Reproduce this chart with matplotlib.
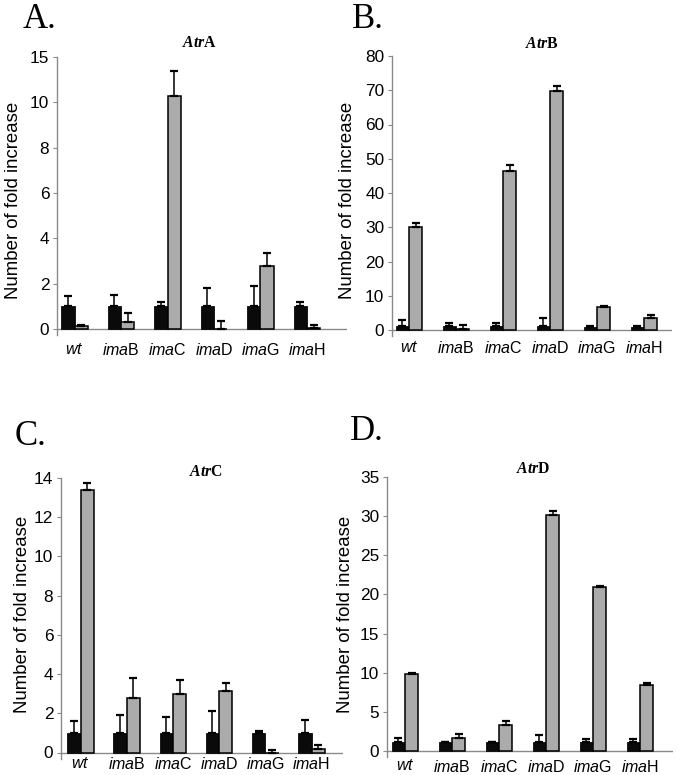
import matplotlib
matplotlib.use("Agg")
import matplotlib.pyplot as plt
import numpy as np

plt.rcParams['font.family'] = ['Liberation Sans', 'DejaVu Sans']
plt.rcParams['mathtext.fontset'] = 'custom'
plt.rcParams['mathtext.rm'] = 'Liberation Sans'
plt.rcParams['mathtext.it'] = 'Liberation Sans:italic'
plt.rcParams['mathtext.bf'] = 'Liberation Serif:bold'
plt.rcParams['mathtext.bfit'] = 'Liberation Serif:bold:italic'

# ---------------- data ----------------
strains = ["wt", "imaB", "imaC", "imaD", "imaG", "imaH"]
xtick_labels = [r"$\mathit{wt}$", r"$\mathit{ima}\mathrm{B}$", r"$\mathit{ima}\mathrm{C}$",
                r"$\mathit{ima}\mathrm{D}$", r"$\mathit{ima}\mathrm{G}$", r"$\mathit{ima}\mathrm{H}$"]

# Panel A (AtrA) - axis positions 0..12, top label printed as "15"
a_black = [1.0, 1.0, 1.0, 1.0, 1.0, 1.0]
a_black_err = [0.44, 0.48, 0.17, 0.83, 0.88, 0.2]
a_gray = [0.12, 0.3, 10.3, 0.0, 2.8, 0.06]
a_gray_err = [0.07, 0.39, 1.1, 0.34, 0.55, 0.1]
a_yticks = [0, 2, 4, 6, 8, 10, 12]
a_yticklabels = ["0", "2", "4", "6", "8", "10", "15"]

# Panel B (AtrB)
b_black = [1.3, 1.3, 1.3, 1.3, 1.0, 1.0]
b_black_err = [1.6, 0.65, 0.8, 2.3, 0.2, 0.2]
b_gray = [30.0, 0.3, 46.5, 69.8, 6.6, 3.4]
b_gray_err = [1.1, 1.15, 1.8, 1.4, 0.4, 1.0]
b_yticks = [0, 10, 20, 30, 40, 50, 60, 70, 80]
b_yticklabels = ["0", "10", "20", "30", "40", "50", "60", "70", "80"]

# Panel C (AtrC)
c_black = [1.0, 1.0, 1.0, 1.0, 1.0, 1.0]
c_black_err = [0.62, 0.9, 0.83, 1.1, 0.12, 0.68]
c_gray = [13.39, 2.76, 2.96, 3.16, 0.0, 0.2]
c_gray_err = [0.34, 1.02, 0.74, 0.36, 0.15, 0.2]
c_yticks = [0, 2, 4, 6, 8, 10, 12, 14]
c_yticklabels = ["0", "2", "4", "6", "8", "10", "12", "14"]

# Panel D (AtrD)
d_black = [1.1, 1.15, 1.2, 1.1, 1.1, 1.1]
d_black_err = [0.6, 0.0, 0.0, 1.0, 0.4, 0.4]
d_gray = [9.8, 1.66, 3.3, 30.1, 20.96, 8.4]
d_gray_err = [0.2, 0.45, 0.54, 0.6, 0.08, 0.35]
d_yticks = [0, 5, 10, 15, 20, 25, 30, 35]
d_yticklabels = ["0", "5", "10", "15", "20", "25", "30", "35"]

titles = [r"$\mathbfit{Atr}\mathbf{A}$", r"$\mathbfit{Atr}\mathbf{B}$",
          r"$\mathbfit{Atr}\mathbf{C}$", r"$\mathbfit{Atr}\mathbf{D}$"]
panel_letters = ["A.", "B.", "C.", "D."]
ylabel = "Number of fold increase"

# ---------------- layout ----------------
W, H = 678, 775
fig = plt.figure(figsize=(W / 100, H / 100), dpi=100)

BLACK = "#0a0a0a"
GRAY = "#ababab"
SPINE = "#8a8a8a"


def panel(left, right, y0, ytop, ymax, c0, step, black, black_err, gray, gray_err,
          yticks, yticklabels, xpad_px):
    ext = 6  # px of left spine below zero line
    ppu = (y0 - ytop) / ymax
    bottom_px = y0 + ext
    ax = fig.add_axes([left / W, 1 - bottom_px / H, (right - left) / W, (bottom_px - ytop) / H])
    ax.set_xlim((left - c0) / step, (right - c0) / step)
    ax.set_ylim(-ext / ppu, ymax)
    x = np.arange(len(strains))
    w = 13.3 / step
    ax.bar(x - w / 2, black, width=w, color=BLACK, edgecolor=BLACK, linewidth=0.6, zorder=2)
    ax.bar(x + w / 2, gray, width=w, color=GRAY, edgecolor="black", linewidth=1.1, zorder=2)
    ax.errorbar(x - w / 2, black, yerr=[np.zeros(len(x)), black_err], fmt="none",
                ecolor="black", elinewidth=1.1, capsize=2.9, capthick=1.6, zorder=3)
    ax.errorbar(x + w / 2, gray, yerr=[np.zeros(len(x)), gray_err], fmt="none",
                ecolor="black", elinewidth=1.1, capsize=2.9, capthick=1.6, zorder=3)
    ax.axhline(0, color=SPINE, linewidth=1.0, zorder=1)
    for s in ["top", "right", "bottom"]:
        ax.spines[s].set_visible(False)
    ax.spines["left"].set_color(SPINE)
    ax.spines["left"].set_linewidth(1.0)
    ax.set_yticks(yticks)
    ax.set_yticklabels(yticklabels, fontsize=12.4)
    ax.tick_params(axis="y", length=3, width=0.8, color=SPINE, pad=2.5)
    ax.set_xticks(x)
    ax.set_xticklabels(xtick_labels, fontsize=11.5)
    ax.tick_params(axis="x", length=0, pad=xpad_px * 0.72)
    ax.patch.set_alpha(0)
    return ax


panel(57, 347, 329, 57, 12, 74.5, 46.5, a_black, a_black_err, a_gray, a_gray_err,
      a_yticks, a_yticklabels, 7)
panel(392, 672, 330, 56, 80, 409, 47, b_black, b_black_err, b_gray, b_gray_err,
      b_yticks, b_yticklabels, 4)
panel(61, 343, 752.5, 478, 14, 80.5, 46.2, c_black, c_black_err, c_gray, c_gray_err,
      c_yticks, c_yticklabels, -2.5)
panel(387, 673, 751, 477, 35, 405, 47, d_black, d_black_err, d_gray, d_gray_err,
      d_yticks, d_yticklabels, 1.5)

# titles
for (tx, ty), t in zip([(200, 42.5), (542, 44), (206, 471), (533, 469)], titles):
    fig.text(tx / W, 1 - ty / H, t, fontsize=11.3, ha="center", va="center")

# panel letters
for (lx, ly), t in zip([(23, 28), (352, 28), (15, 445), (350, 440)], panel_letters):
    fig.text(lx / W, 1 - ly / H, t, fontsize=25, family="Liberation Serif",
             ha="left", va="baseline")

# y labels
for (yx, yy) in [(13.5, 200), (347, 200), (23, 614), (346, 614)]:
    fig.text(yx / W, 1 - yy / H, ylabel, fontsize=13.4, rotation=90,
             ha="center", va="center")

fig.savefig("out.png", dpi=100)
